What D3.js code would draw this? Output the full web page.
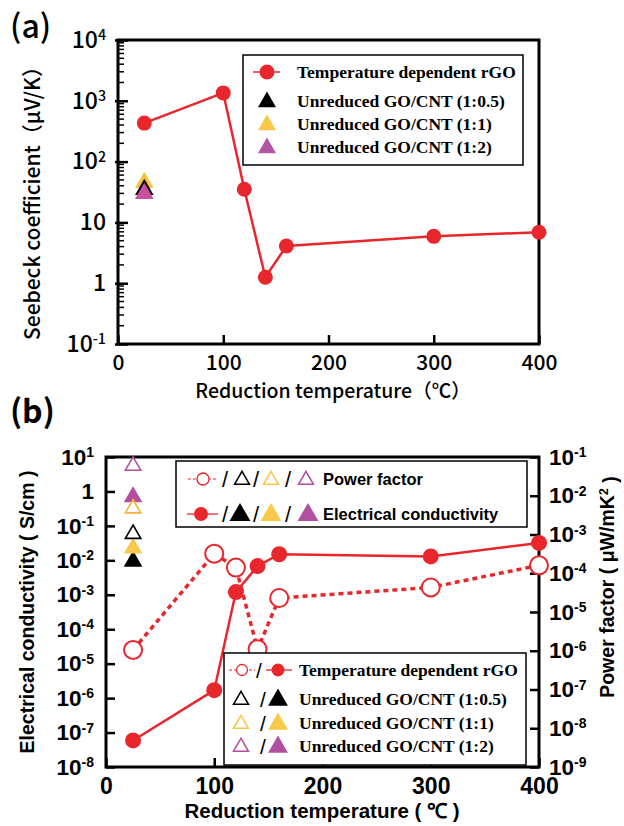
<!DOCTYPE html>
<html>
<head>
<meta charset="utf-8">
<script src="https://cdn.jsdelivr.net/npm/d3@7"></script>
<style>
  body { margin: 0; background: #fff; }
  svg { display: block; }
</style>
</head>
<body>
<div id="chart"></div>
<script>
// ---- data: panel (a) Seebeck coefficient ----
const tempA = [25, 100, 120, 140, 160, 300, 400];
const seebeck = [430, 1350, 35, 1.25, 4.1, 5.9, 6.9];
const unredX = 25;
const seebeckUnred = [36, 47, 31];            // 1:0.5, 1:1, 1:2

// ---- data: panel (b) conductivity / power factor ----
const tempB = [25, 100, 120, 140, 160, 300, 400];
const conductivity = [5.9e-8, 1.7e-6, 1.2e-3, 6.8e-3, 1.5e-2, 1.3e-2, 3.2e-2];
const powerFactor = [1.05e-6, 3.2e-4, 1.4e-4, 1.1e-6, 2.3e-5, 4.3e-5, 1.6e-4];
const condUnred = [0.01, 0.024, 0.74];         // 1:0.5, 1:1, 1:2  (left axis)
const pfUnred = [1.1e-3, 5e-3, 0.063];         // 1:0.5, 1:1, 1:2  (right axis)

const unredLabels = ["Unreduced GO/CNT (1:0.5)", "Unreduced GO/CNT (1:1)", "Unreduced GO/CNT (1:2)"];
const xTicks = [0, 100, 200, 300, 400];

const RED = "#e8272d";
const fillCol = ["#000000", "#f8c94a", "#b24f9e"];
const openCol = ["#000000", "#f4b23a", "#b24f9e"];

const svg = d3.select("#chart").append("svg")
    .attr("width", 624)
    .attr("height", 826);

const sym = d3.symbol().type(d3.symbolTriangle);
const openTri = d3.symbol().type(d3.symbolTriangle2);

// write 10^n labels with superscripts
function powLabel(text, v) {
    text.text(null);
    const e = Math.round(Math.log10(v));
    if (e === 0) { text.text("1"); return; }
    if (e === 1 && text.attr("data-ten") === "1") { text.text("10"); return; }
    text.append("tspan").text("10");
    text.append("tspan").attr("dy", "-0.55em").attr("font-size", "0.62em").text(e);
}

// ================= Panel (a) =================
const xa = d3.scaleLinear().domain([0, 400]).range([118, 539]);
const ya = d3.scaleLog().domain([0.1, 1e4]).range([344, 40]);

const fa = "'Noto Sans CJK JP', 'Noto Sans', sans-serif";

// minor ticks
const gA = svg.append("g");
const minorA = [];
for (let e = -1; e < 4; e++) for (let m = 2; m < 10; m++) minorA.push(m * Math.pow(10, e));
gA.selectAll(".minor").data(minorA).join("line")
    .attr("x1", xa(0)).attr("x2", xa(0) + 6)
    .attr("y1", d => ya(d)).attr("y2", d => ya(d))
    .attr("stroke", "#000").attr("stroke-width", 1.5);

const yAxisA = d3.axisLeft(ya).tickValues([0.1, 1, 10, 100, 1000, 10000])
    .tickSize(-10).tickPadding(13).tickFormat(() => "");
const gyA = svg.append("g").attr("transform", `translate(${xa(0)},0)`).call(yAxisA);
gyA.select(".domain").remove();
gyA.selectAll("line").attr("stroke-width", 2.5).attr("x1", -3);
gyA.selectAll("text")
    .attr("font-family", fa).attr("font-size", 23).attr("font-weight", 500).attr("fill", "#000")
    .attr("x", -12)
    .attr("data-ten", "1")
    .each(function(d) { powLabel(d3.select(this), d); });

const xAxisA = d3.axisBottom(xa).tickValues(xTicks).tickSize(-9).tickPadding(11);
const gxA = svg.append("g").attr("transform", `translate(0,${ya(0.1)})`).call(xAxisA);
gxA.select(".domain").remove();
gxA.selectAll("line").attr("stroke-width", 2.5);
gxA.selectAll("text").attr("font-family", fa).attr("font-size", 21).attr("font-weight", 500).attr("fill", "#000");

svg.append("rect").attr("x", xa(0)).attr("y", ya(1e4))
    .attr("width", xa(400) - xa(0)).attr("height", ya(0.1) - ya(1e4))
    .attr("fill", "none").attr("stroke", "#000").attr("stroke-width", 3);

svg.append("path")
    .datum(tempA.map((t, i) => [t, seebeck[i]]))
    .attr("d", d3.line().x(d => xa(d[0])).y(d => ya(d[1])))
    .attr("fill", "none").attr("stroke", RED).attr("stroke-width", 2.5);
svg.append("g").selectAll("circle").data(tempA).join("circle")
    .attr("cx", d => xa(d)).attr("cy", (d, i) => ya(seebeck[i]))
    .attr("r", 7.5).attr("fill", RED);

// unreduced triangles: draw yellow, black, purple order
[1, 0, 2].forEach(i => {
    svg.append("path").attr("d", sym.size(150)())
        .attr("transform", `translate(${xa(unredX)},${ya(seebeckUnred[i]) + 1})`)
        .attr("fill", i === 2 ? "#c9509f" : (i === 1 ? "#f9c040" : "#000"));
});

// legend (a)
const legA = svg.append("g");
legA.append("rect").attr("x", 243).attr("y", 55).attr("width", 280).attr("height", 110)
    .attr("fill", "#fff").attr("stroke", "#000").attr("stroke-width", 1.5);
const legARows = [72, 101, 124, 147];
legA.append("line").attr("x1", 253).attr("x2", 280).attr("y1", legARows[0]).attr("y2", legARows[0])
    .attr("stroke", RED).attr("stroke-width", 1.5);
legA.append("circle").attr("cx", 267).attr("cy", legARows[0]).attr("r", 7.5).attr("fill", RED);
[0, 1, 2].forEach(i => {
    legA.append("path").attr("d", sym.size(140)())
        .attr("transform", `translate(267,${legARows[i + 1] + 1})`)
        .attr("fill", i === 2 ? "#b455a3" : (i === 1 ? "#f9c84a" : "#000"));
});
legA.selectAll("text").data(["Temperature dependent rGO"].concat(unredLabels)).join("text")
    .attr("x", 297).attr("y", (d, i) => legARows[i] + 6)
    .attr("font-family", "'Liberation Serif', 'Times New Roman', serif")
    .attr("font-weight", "bold").attr("font-size", 17.5).text(d => d);

svg.append("text").attr("transform", "translate(40,198) rotate(-90)")
    .attr("text-anchor", "middle").attr("font-family", fa).attr("font-weight", 500)
    .attr("font-size", 21).text("Seebeck coefficient（μV/K）");
svg.append("text").attr("x", 333).attr("y", 398).attr("text-anchor", "middle")
    .attr("font-family", fa).attr("font-weight", 500).attr("font-size", 19.5)
    .text("Reduction temperature（℃）");
svg.append("text").attr("x", 10).attr("y", 38).attr("font-family", fa)
    .attr("font-size", 32).attr("font-weight", 500).text("(a)");

// ================= Panel (b) =================
const fb = "'Liberation Sans', Arial, sans-serif";
const xb = d3.scaleLinear().domain([0, 400]).range([106, 539]);
const yL = d3.scaleLog().domain([1e-8, 10]).range([767, 457]);
const yR = d3.scaleLog().domain([1e-9, 0.1]).range([767, 457]);

const leftVals = d3.range(-8, 2).map(e => Math.pow(10, e));
const rightVals = d3.range(-9, 0).map(e => Math.pow(10, e));

const gyL = svg.append("g").attr("transform", `translate(${xb(0)},0)`)
    .call(d3.axisLeft(yL).tickValues(leftVals).tickSize(-9).tickPadding(12).tickFormat(() => ""));
gyL.select(".domain").remove();
gyL.selectAll("line").attr("stroke-width", 2.5);
gyL.selectAll("text").attr("font-family", fb).attr("font-weight", "bold").attr("font-size", 22.5)
    .attr("fill", "#000").attr("data-ten", "0")
    .each(function(d) { powLabel(d3.select(this), d); });

const gyR = svg.append("g").attr("transform", `translate(${xb(400)},0)`)
    .call(d3.axisRight(yR).tickValues(rightVals).tickSize(-9).tickPadding(10).tickFormat(() => ""));
gyR.select(".domain").remove();
gyR.selectAll("line").attr("stroke-width", 2.5);
gyR.selectAll("text").attr("font-family", fb).attr("font-weight", "bold").attr("font-size", 22.5)
    .attr("fill", "#000").attr("data-ten", "0")
    .each(function(d) { powLabel(d3.select(this), d); });

const gxB = svg.append("g").attr("transform", `translate(0,${yL(1e-8)})`)
    .call(d3.axisBottom(xb).tickValues(xTicks).tickSize(-9).tickPadding(11));
gxB.select(".domain").remove();
gxB.selectAll("line").attr("stroke-width", 2.5);
gxB.selectAll("text").attr("font-family", fb).attr("font-weight", "bold").attr("font-size", 23).attr("fill", "#000");

svg.append("rect").attr("x", xb(0)).attr("y", yL(10))
    .attr("width", xb(400) - xb(0)).attr("height", yL(1e-8) - yL(10))
    .attr("fill", "none").attr("stroke", "#000").attr("stroke-width", 3);

// power factor (dotted, open circles)
svg.append("path")
    .datum(tempB.map((t, i) => [t, powerFactor[i]]))
    .attr("d", d3.line().x(d => xb(d[0])).y(d => yR(d[1])))
    .attr("fill", "none").attr("stroke", RED).attr("stroke-width", 3.5)
    .attr("stroke-dasharray", "5,4");
// conductivity (solid, filled circles)
svg.append("path")
    .datum(tempB.map((t, i) => [t, conductivity[i]]))
    .attr("d", d3.line().x(d => xb(d[0])).y(d => yL(d[1])))
    .attr("fill", "none").attr("stroke", RED).attr("stroke-width", 2.5);
svg.append("g").selectAll("circle").data(tempB).join("circle")
    .attr("cx", d => xb(d)).attr("cy", (d, i) => yR(powerFactor[i]))
    .attr("r", 9).attr("fill", "#fff").attr("stroke", RED).attr("stroke-width", 2);
svg.append("g").selectAll("circle").data(tempB).join("circle")
    .attr("cx", d => xb(d)).attr("cy", (d, i) => yL(conductivity[i]))
    .attr("r", 8).attr("fill", RED);

// unreduced triangles in (b)
condUnred.forEach((v, i) => {
    svg.append("path").attr("d", sym.size(150)())
        .attr("transform", `translate(${xb(unredX)},${yL(v) + 1})`)
        .attr("fill", fillCol[i]);
});
pfUnred.forEach((v, i) => {
    svg.append("path").attr("d", openTri.size(170)())
        .attr("transform", `translate(${xb(unredX)},${yR(v) + 1})`)
        .attr("fill", "none").attr("stroke", openCol[i]).attr("stroke-width", 1.6);
});

// legend (b) top
const legB = svg.append("g");
legB.append("rect").attr("x", 176).attr("y", 461).attr("width", 351).attr("height", 66)
    .attr("fill", "#fff").attr("stroke", "#000").attr("stroke-width", 1.5);
const rowB = [479, 514];
legB.append("line").attr("x1", 188).attr("x2", 218).attr("y1", rowB[0]).attr("y2", rowB[0])
    .attr("stroke", RED).attr("stroke-width", 1).attr("stroke-dasharray", "3,2");
legB.append("circle").attr("cx", 203).attr("cy", rowB[0]).attr("r", 6).attr("fill", "#fff")
    .attr("stroke", RED).attr("stroke-width", 1.3);
legB.append("line").attr("x1", 187).attr("x2", 218).attr("y1", rowB[1]).attr("y2", rowB[1])
    .attr("stroke", RED).attr("stroke-width", 1.3);
legB.append("circle").attr("cx", 201).attr("cy", rowB[1]).attr("r", 7).attr("fill", RED);
const openXs = [242, 271, 306];
const fillXs = [240, 271, 308];
[0, 1, 2].forEach(i => {
    legB.append("path").attr("d", openTri.size(160)())
        .attr("transform", `translate(${openXs[i]},${rowB[0] + 1})`)
        .attr("fill", "none").attr("stroke", i === 1 ? "#f9c84a" : openCol[i]).attr("stroke-width", 1.5);
    legB.append("path").attr("d", sym.size(190)())
        .attr("transform", `translate(${fillXs[i]},${rowB[1] + 1})`)
        .attr("fill", fillCol[i]);
});
[[222, 253, 285], [222, 253, 285]].forEach((xs, r) => {
    xs.forEach(x => {
        legB.append("text").attr("x", x).attr("y", rowB[r] + 8).attr("font-family", fb)
            .attr("font-size", 22).text("/");
    });
});
legB.append("text").attr("x", 323).attr("y", rowB[0] + 6).attr("font-family", fb)
    .attr("font-weight", "bold").attr("font-size", 16.5).text("Power factor");
legB.append("text").attr("x", 323).attr("y", rowB[1] + 6).attr("font-family", fb)
    .attr("font-weight", "bold").attr("font-size", 16.5).text("Electrical conductivity");

// legend (b) bottom
const legC = svg.append("g");
legC.append("rect").attr("x", 224).attr("y", 653).attr("width", 302).attr("height", 112)
    .attr("fill", "#fff").attr("stroke", "#000").attr("stroke-width", 1.5);
const rowC = [670, 699, 723, 746];
legC.append("line").attr("x1", 229).attr("x2", 255).attr("y1", rowC[0]).attr("y2", rowC[0])
    .attr("stroke", RED).attr("stroke-width", 1).attr("stroke-dasharray", "3,2");
legC.append("circle").attr("cx", 242).attr("cy", rowC[0]).attr("r", 5.5).attr("fill", "#fff")
    .attr("stroke", RED).attr("stroke-width", 1.3);
legC.append("line").attr("x1", 266).attr("x2", 292).attr("y1", rowC[0]).attr("y2", rowC[0])
    .attr("stroke", RED).attr("stroke-width", 1.3);
legC.append("circle").attr("cx", 278).attr("cy", rowC[0]).attr("r", 6.5).attr("fill", RED);
[0, 1, 2].forEach(i => {
    legC.append("path").attr("d", openTri.size(160)())
        .attr("transform", `translate(241,${rowC[i + 1] + 1})`)
        .attr("fill", "none").attr("stroke", i === 1 ? "#f9c84a" : openCol[i]).attr("stroke-width", 1.5);
    legC.append("path").attr("d", sym.size(170)())
        .attr("transform", `translate(278,${rowC[i + 1] + 1})`)
        .attr("fill", fillCol[i]);
});
rowC.forEach((y, i) => {
    legC.append("text").attr("x", i === 0 ? 256 : 260).attr("y", y + 8)
        .attr("font-family", fb).attr("font-size", 21).text("/");
});
legC.selectAll(".lab").data(["Temperature dependent rGO"].concat(unredLabels)).join("text")
    .attr("x", 299).attr("y", (d, i) => rowC[i] + 6)
    .attr("font-family", "'Liberation Serif', 'Times New Roman', serif")
    .attr("font-weight", "bold").attr("font-size", 17.5).text(d => d);

// axis titles (b)
svg.append("text").attr("transform", "translate(34,612) rotate(-90)")
    .attr("text-anchor", "middle").attr("font-family", fb).attr("font-weight", "bold")
    .attr("font-size", 19.5).text("Electrical conductivity ( S/cm )");
const rt = svg.append("text").attr("transform", "translate(614,587) rotate(-90)")
    .attr("text-anchor", "middle").attr("font-family", fb).attr("font-weight", "bold")
    .attr("font-size", 19.5);
rt.append("tspan").text("Power factor ( μW/mK");
rt.append("tspan").attr("dy", "-0.5em").attr("font-size", "0.65em").text("2");
rt.append("tspan").attr("dy", "0.5em").text(" )");
svg.append("text").attr("x", 322).attr("y", 818).attr("text-anchor", "middle")
    .attr("font-family", fb).attr("font-weight", "bold").attr("font-size", 20.5)
    .text("Reduction temperature ( ℃ )");
svg.append("text").attr("x", 10).attr("y", 423).attr("font-family", fa)
    .attr("font-size", 32).attr("font-weight", 700).text("(b)");
</script>
</body>
</html>
